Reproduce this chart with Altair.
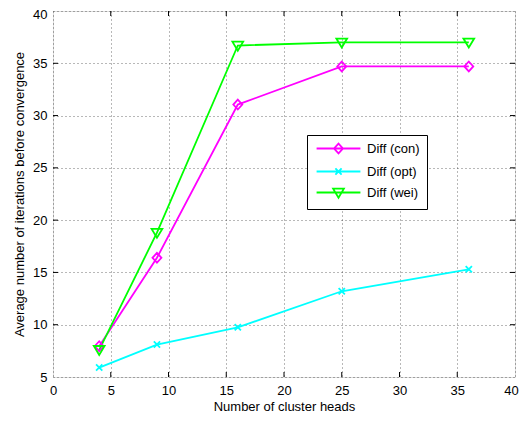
import altair as alt
import pandas as pd

x_vals = [4, 9, 16, 25, 36]
con = [7.95, 16.4, 31.05, 34.7, 34.7]
opt = [5.9, 8.1, 9.75, 13.2, 15.3]
wei = [7.6, 18.8, 36.7, 37.0, 37.0]
series_names = ["Diff (con)", "Diff (opt)", "Diff (wei)"]
colors = ["#ff00ff", "#00ffff", "#00ff00"]
shapes = ["M0,-1.1L1,0L0,1.1L-1,0Z",
          "M-0.7,-0.7L0.7,0.7M-0.7,0.7L0.7,-0.7",
          "M-1.2,-0.85L1.2,-0.85L0,1.15Z"]
legend_line = "M-4.9,0L4.9,0"
x_ticks = [0, 5, 10, 15, 20, 25, 30, 35, 40]
y_ticks = [5, 10, 15, 20, 25, 30, 35, 40]

series_vals = [con, opt, wei]
rows = []
for name, vals in zip(series_names, series_vals):
    for xv, yv in zip(x_vals, vals):
        rows.append({"x": xv, "y": yv, "s": name})
df = pd.DataFrame(rows)

W, H = 462, 366
FONT = "Liberation Sans"

xs = alt.Scale(domain=[0, 40], nice=False)
ys = alt.Scale(domain=[5, 40], nice=False)

xax = alt.Axis(values=x_ticks, title="Number of cluster heads", grid=True,
               gridDash=[1, 3], gridColor="#000", gridOpacity=0.7, gridWidth=0.8,
               ticks=False, labelPadding=7, titlePadding=3, domain=False,
               labelFont=FONT, titleFont=FONT, labelFontSize=13, titleFontSize=13,
               titleFontWeight="normal", labelColor="#000", titleColor="#000",
               labelFlush=False,
               labelOffset={"condition": {"test": "datum.value == 40", "value": -4}, "value": 0})
yax = alt.Axis(values=y_ticks, title="Average number of iterations before convergence",
               grid=True, gridDash=[1, 3], gridColor="#000", gridOpacity=0.7, gridWidth=0.8,
               ticks=False, labelPadding=6, titlePadding=6, domain=False,
               labelFont=FONT, titleFont=FONT, labelFontSize=13, titleFontSize=13,
               titleFontWeight="normal", labelColor="#000", titleColor="#000",
               labelFlush=False,
               labelOffset={"condition": {"test": "datum.value == 40", "value": 3}, "value": 0})


def X(f):
    return alt.X(f, scale=xs, axis=xax)


def Y(f):
    return alt.Y(f, scale=ys, axis=yax)


layers = []
for i, name in enumerate(series_names):
    sub = df[df["s"] == name]
    layers.append(alt.Chart(sub).mark_line(strokeWidth=1.8, color=colors[i]).encode(
        x=X("x:Q"), y=Y("y:Q")))
for i, name in enumerate(series_names):
    sub = df[df["s"] == name]
    layers.append(alt.Chart(sub).mark_point(filled=False, strokeWidth=1.8, size=80, opacity=1,
                                            color=colors[i], shape=shapes[i]).encode(
        x=X("x:Q"), y=Y("y:Q")))

leg = alt.Legend(
    title=None, orient="none", legendX=254, legendY=124,
    strokeColor="#000", fillColor="#fff", padding=7,
    labelFont=FONT, labelFontSize=13, labelColor="#000",
    symbolStrokeWidth=1.8, symbolSize=80, symbolOpacity=1, rowPadding=6,
    symbolOffset=18, labelOffset=22)

legend_layer = alt.Chart(df).mark_point(filled=False, opacity=0, size=80).encode(
    x=X("x:Q"), y=Y("y:Q"),
    color=alt.Color("s:N", scale=alt.Scale(domain=series_names, range=colors), legend=leg),
    shape=alt.Shape("s:N", scale=alt.Scale(domain=series_names,
                                           range=[s + legend_line for s in shapes]), legend=leg),
)
layers.append(legend_layer)

xt = pd.DataFrame({"t": x_ticks[1:-1]})
yt = pd.DataFrame({"t": y_ticks[1:-1]})
layers.append(alt.Chart(xt).mark_rule(color="#000", strokeWidth=1).encode(
    x=X("t:Q"), y=alt.value(H), y2=alt.value(H - 5)))
layers.append(alt.Chart(xt).mark_rule(color="#000", strokeWidth=1).encode(
    x=X("t:Q"), y=alt.value(0), y2=alt.value(5)))
layers.append(alt.Chart(yt).mark_rule(color="#000", strokeWidth=1).encode(
    y=Y("t:Q"), x=alt.value(0), x2=alt.value(5)))
layers.append(alt.Chart(yt).mark_rule(color="#000", strokeWidth=1).encode(
    y=Y("t:Q"), x=alt.value(W), x2=alt.value(W - 5)))

chart = alt.layer(*layers).properties(
    width=W, height=H,
    autosize=alt.AutoSizeParams(type="none"),
    padding={"left": 45, "top": 3, "right": 4, "bottom": 36},
).configure_view(stroke="#000", strokeWidth=1.2).configure(background="#fff")

chart.save("out.html", embed_options={"renderer": "svg", "actions": False})
